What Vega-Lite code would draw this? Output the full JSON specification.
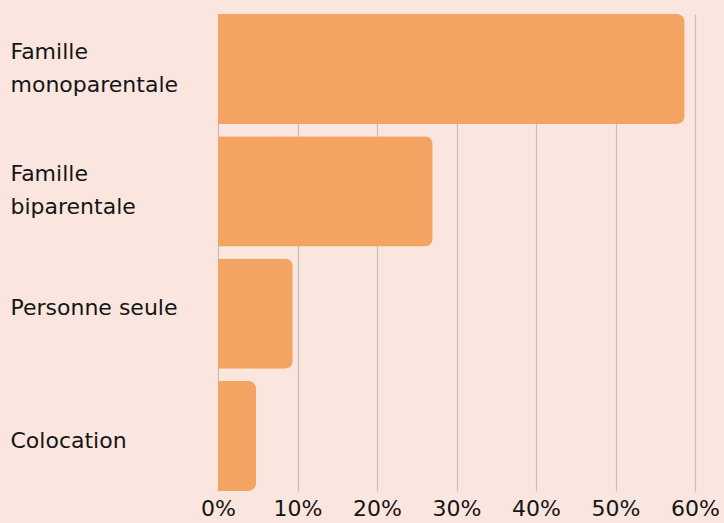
{
  "$schema": "https://vega.github.io/schema/vega-lite/v6.json",
  "width": 477,
  "height": 477,
  "autosize": {"type": "none"},
  "padding": {"left": 218, "top": 14, "right": 29, "bottom": 32},
  "background": "#FAE6DF",
  "config": {
    "view": {"stroke": null},
    "font": "DejaVu Sans"
  },
  "data": {
    "values": [
      {"type": "Famille monoparentale", "share": 0.587},
      {"type": "Famille biparentale", "share": 0.270},
      {"type": "Personne seule", "share": 0.094},
      {"type": "Colocation", "share": 0.048}
    ]
  },
  "mark": {"type": "bar", "color": "#F4A462", "cornerRadiusEnd": 8},
  "encoding": {
    "y": {
      "field": "type",
      "type": "nominal",
      "sort": null,
      "scale": {"paddingInner": 0.1, "paddingOuter": 0},
      "axis": {
        "title": null,
        "domain": false,
        "ticks": false,
        "labelAlign": "left",
        "labelPadding": 208,
        "labelFontSize": 22,
        "labelColor": "#151515",
        "labelLineHeight": 33,
        "labelLimit": 220,
        "labelOffset": {
          "condition": [
            {"test": "indexof(datum.value, 'Famille') == 0", "value": -17},
            {"test": "datum.value == 'Personne seule'", "value": -6},
            {"test": "datum.value == 'Colocation'", "value": 5}
          ],
          "value": 0
        },
        "labelExpr": "datum.value == 'Famille monoparentale' ? ['Famille', 'monoparentale'] : datum.value == 'Famille biparentale' ? ['Famille', 'biparentale'] : datum.value"
      }
    },
    "x": {
      "field": "share",
      "type": "quantitative",
      "scale": {"domain": [0, 0.6], "nice": false},
      "axis": {
        "title": null,
        "format": ".0%",
        "values": [0, 0.1, 0.2, 0.3, 0.4, 0.5, 0.6],
        "domain": false,
        "ticks": false,
        "grid": true,
        "gridColor": "#C9BDB8",
        "gridWidth": 1.2,
        "labelFontSize": 22,
        "labelColor": "#151515",
        "labelPadding": 7,
        "labelFlush": false
      }
    }
  }
}
